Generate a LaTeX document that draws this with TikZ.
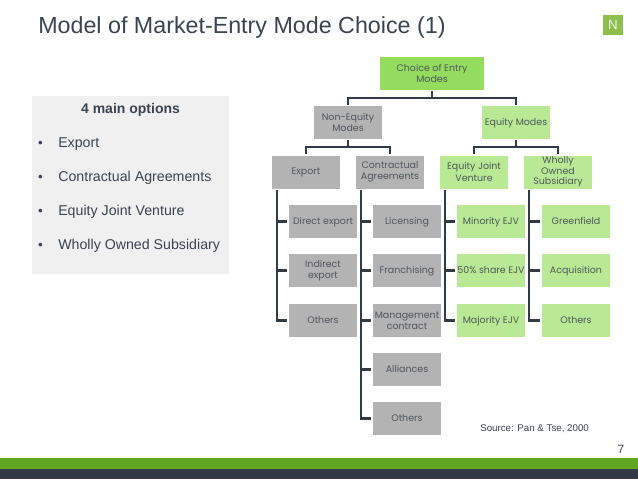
\documentclass[tikz,border=0pt]{standalone}
\usepackage{fontspec}
\setmainfont{Liberation Sans}
\newfontfamily\treefont{Poppins}
\usetikzlibrary{calc}
\definecolor{ink}{HTML}{3A4350}
\definecolor{treeink}{HTML}{50565C}
\definecolor{rootgreen}{HTML}{94DC5E}
\definecolor{lightgreen}{HTML}{B9E994}
\definecolor{boxgray}{HTML}{B3B3B3}
\definecolor{panelgray}{HTML}{F0F0F1}
\definecolor{barGreen}{HTML}{62A523}
\definecolor{barDark}{HTML}{323A46}
\definecolor{logogreen}{HTML}{8CBF4C}
\tikzset{
  x=0.75pt,y=-0.75pt,
  tbox/.style={fill=#1,minimum width=51pt,minimum height=24.75pt,inner sep=0pt,align=center,
    text=treeink,font=\treefont\fontsize{7.1}{8.6}\selectfont},
  oneline/.style={text height=5.4pt,text depth=1.6pt},
  conn/.style={draw=barDark,line width=1.4pt,shorten >=0.8pt,shorten <=0.8pt},
  trunkline/.style={conn,line width=1.55pt},
  bullettext/.style={anchor=base west,text=ink,font=\fontsize{10.65}{12}\selectfont,inner sep=0pt},
  bulletmark/.style={anchor=base,text=ink,font=\fontsize{10}{12}\selectfont,inner sep=0pt},
}
\newcommand{\trunk}[2]{\draw[trunkline] ($(#1.south west)+(5.7,0)$) |- ($(#2.west)+(-0.5,0)$);}
\begin{document}
\begin{tikzpicture}
\useasboundingbox (0,0) rectangle (638,479);
\fill[white] (0,0) rectangle (638,479);
% title
\node[anchor=base west,inner sep=0pt,text=ink,font=\fontsize{17.45}{22}\selectfont] (title) at (38,33) {Model of Market-Entry Mode Choice (1)};
\node[fill=logogreen,minimum width=15pt,minimum height=15pt,inner sep=0pt,text=white!88!logogreen,font=\fontsize{10}{12}\selectfont] (logo) at (613,25) {N};
% panel
\fill[panelgray] (32,96) rectangle (229,274);
\node[anchor=base,inner sep=0pt,text=ink,font=\bfseries\fontsize{10.5}{12}\selectfont] (head) at (130.5,113) {4 main options};
\node[bulletmark] (b1) at (40.5,147) {•};
\node[bullettext] (t1) at (58,147) {Export};
\node[bulletmark] (b2) at (40.5,181) {•};
\node[bullettext] (t2) at (58,181) {Contractual Agreements};
\node[bulletmark] (b3) at (40.5,215) {•};
\node[bullettext] (t3) at (58,215) {Equity Joint Venture};
\node[bulletmark] (b4) at (40.5,249) {•};
\node[bullettext] (t4) at (58,249) {Wholly Owned Subsidiary};
% tree
\node[tbox=rootgreen,minimum width=78pt] (root) at (432,73.5) {Choice of Entry\\Modes};
\node[tbox=boxgray] (ne) at (348,122.5) {Non-Equity\\Modes};
\node[tbox=lightgreen,oneline] (eq) at (516,122.5) {Equity Modes};
\node[tbox=boxgray,oneline] (exp) at (306,172) {Export};
\node[tbox=boxgray] (con) at (390,172) {Contractual\\Agreements};
\node[tbox=lightgreen] (ejv) at (474,172) {Equity Joint\\Venture};
\node[tbox=lightgreen,font=\treefont\fontsize{7.1}{7.9}\selectfont] (wos) at (558,172) {Wholly\\Owned\\Subsidiary};
\node[tbox=boxgray,oneline] (a1) at (323,221.5) {Direct export};
\node[tbox=boxgray] (a2) at (323,270.5) {Indirect\\export};
\node[tbox=boxgray,oneline] (a3) at (323,320.5) {Others};
\node[tbox=boxgray,oneline] (b1x) at (407,221.5) {Licensing};
\node[tbox=boxgray,oneline] (b2x) at (407,270.5) {Franchising};
\node[tbox=boxgray] (b3x) at (407,320.5) {Management\\contract};
\node[tbox=boxgray,oneline] (b4x) at (407,369.5) {Alliances};
\node[tbox=boxgray,oneline] (b5x) at (407,418.5) {Others};
\node[tbox=lightgreen,oneline] (c1) at (491,221.5) {Minority EJV};
\node[tbox=lightgreen,oneline] (c2) at (491,270.5) {50\% share EJV};
\node[tbox=lightgreen,oneline] (c3) at (491,320.5) {Majority EJV};
\node[tbox=lightgreen,oneline] (d1) at (576,221.5) {Greenfield};
\node[tbox=lightgreen,oneline] (d2) at (576,270.5) {Acquisition};
\node[tbox=lightgreen,oneline] (d3) at (576,320.5) {Others};
% connectors
\draw[conn] (root.south) -- ++(0,7.8) -| (ne.north);
\draw[conn] (root.south) -- ++(0,7.8) -| (eq.north);
\draw[conn] (ne.south) -- ++(0,7.8) -| (exp.north);
\draw[conn] (ne.south) -- ++(0,7.8) -| (con.north);
\draw[conn] (eq.south) -- ++(0,7.8) -| (ejv.north);
\draw[conn] (eq.south) -- ++(0,7.8) -| (wos.north);
\trunk{exp}{a1}\trunk{exp}{a2}\trunk{exp}{a3}
\trunk{con}{b1x}\trunk{con}{b2x}\trunk{con}{b3x}\trunk{con}{b4x}\trunk{con}{b5x}
\trunk{ejv}{c1}\trunk{ejv}{c2}\trunk{ejv}{c3}
\trunk{wos}{d1}\trunk{wos}{d2}\trunk{wos}{d3}
% footer
\node[anchor=base west,inner sep=0pt,text=ink,font=\fontsize{7.3}{9}\selectfont] (src) at (480,431) {Source: Pan \& Tse, 2000};
\node[anchor=base,inner sep=0pt,text=ink,font=\fontsize{9}{10}\selectfont] (pg) at (621,453) {7};
\fill[barGreen] (0,458) rectangle (638,469);
\fill[barDark] (0,469) rectangle (638,479);
\end{tikzpicture}
\end{document}
